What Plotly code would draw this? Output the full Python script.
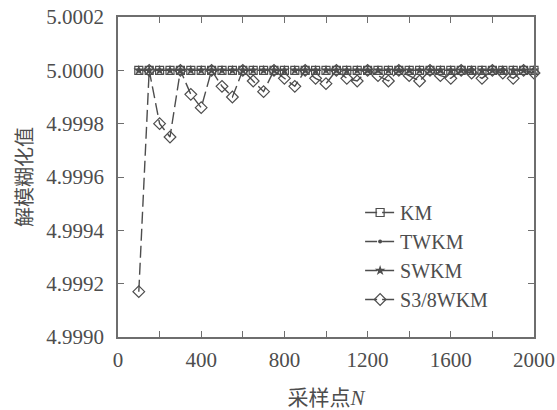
import plotly.graph_objects as go

# Sampling points N
n_points = [100, 150, 200, 250, 300, 350, 400, 450, 500, 550, 600, 650, 700,
            750, 800, 850, 900, 950, 1000, 1050, 1100, 1150, 1200, 1250, 1300,
            1350, 1400, 1450, 1500, 1550, 1600, 1650, 1700, 1750, 1800, 1850,
            1900, 1950, 2000]

# Defuzzified values for each method
km = [5.00000, 5.00000, 5.00000, 5.00000, 5.00000, 5.00000, 5.00000, 5.00000,
      5.00000, 5.00000, 5.00000, 5.00000, 5.00000, 5.00000, 5.00000, 5.00000,
      5.00000, 5.00000, 5.00000, 5.00000, 5.00000, 5.00000, 5.00000, 5.00000,
      5.00000, 5.00000, 5.00000, 5.00000, 5.00000, 5.00000, 5.00000, 5.00000,
      5.00000, 5.00000, 5.00000, 5.00000, 5.00000, 5.00000, 5.00000]
twkm = [5.00000, 5.00000, 5.00000, 5.00000, 5.00000, 5.00000, 5.00000, 5.00000,
        5.00000, 5.00000, 5.00000, 5.00000, 5.00000, 5.00000, 5.00000, 5.00000,
        5.00000, 5.00000, 5.00000, 5.00000, 5.00000, 5.00000, 5.00000, 5.00000,
        5.00000, 5.00000, 5.00000, 5.00000, 5.00000, 5.00000, 5.00000, 5.00000,
        5.00000, 5.00000, 5.00000, 5.00000, 5.00000, 5.00000, 5.00000]
swkm = [5.00000, 5.00000, 5.00000, 5.00000, 5.00000, 5.00000, 5.00000, 5.00000,
        5.00000, 5.00000, 5.00000, 5.00000, 5.00000, 5.00000, 5.00000, 5.00000,
        5.00000, 5.00000, 5.00000, 5.00000, 5.00000, 5.00000, 5.00000, 5.00000,
        5.00000, 5.00000, 5.00000, 5.00000, 5.00000, 5.00000, 5.00000, 5.00000,
        5.00000, 5.00000, 5.00000, 5.00000, 5.00000, 5.00000, 5.00000]
s38wkm = [4.99917, 5.00000, 4.99980, 4.99975, 5.00000, 4.99991, 4.99986,
          5.00000, 4.99994, 4.99990, 5.00000, 4.99996, 4.99992, 5.00000,
          4.99997, 4.99994, 5.00000, 4.99997, 4.99995, 5.00000, 4.99997,
          4.99996, 5.00000, 4.99998, 4.99996, 5.00000, 4.99998, 4.99996,
          5.00000, 4.99998, 4.99997, 5.00000, 4.99999, 4.99997, 5.00000,
          4.99999, 4.99997, 5.00000, 4.99999]

x_tickvals = [0, 400, 800, 1200, 1600, 2000]
y_tickvals = [4.9990, 4.9992, 4.9994, 4.9996, 4.9998, 5.0000, 5.0002]
y_ticktext = ["4.9990", "4.9992", "4.9994", "4.9996", "4.9998", "5.0000", "5.0002"]

INK = "#4d4d4d"
AXIS = "#6e6e6e"
SERIF = "Liberation Serif, Noto Sans CJK SC, serif"

series = [
    ("KM", km, dict(symbol="square-open", size=8, line=dict(width=1.2))),
    ("TWKM", twkm, dict(symbol="circle", size=4)),
    ("SWKM", swkm, dict(symbol="star", size=8)),
    ("S3/8WKM", s38wkm, dict(symbol="diamond-open", size=9, line=dict(width=1.2))),
]

fig = go.Figure()
for name, values, marker in series:
    fig.add_trace(go.Scatter(
        x=n_points, y=values, name=name, mode="lines+markers",
        line=dict(color=INK, width=1.4, dash="12px,5px"),
        marker=dict(color=INK, **marker),
        cliponaxis=False,
    ))

axis_common = dict(
    showline=True, linecolor=AXIS, linewidth=1.5, mirror="ticks",
    ticks="inside", ticklen=6, tickwidth=1.2, tickcolor=AXIS,
    showgrid=False, zeroline=False, automargin=False,
    tickfont=dict(family=SERIF, size=21, color=INK),
)

fig.update_xaxes(
    range=[0, 2000], tickvals=x_tickvals,
    minor=dict(dtick=200, ticks="inside", ticklen=6, tickcolor=AXIS, tickwidth=1.2),
    title=dict(text="采样点<i>N</i>", font=dict(family=SERIF, size=21, color=INK),
               standoff=26),
    ticklabelstandoff=3,
    **axis_common,
)
fig.update_yaxes(
    range=[4.9990, 5.0002], tickvals=y_tickvals, ticktext=y_ticktext,
    title=dict(text="解模糊化值", font=dict(family=SERIF, size=20, color=INK),
               standoff=8),
    ticklabelstandoff=8,
    **axis_common,
)

fig.update_layout(
    width=557, height=410,
    margin=dict(l=118, r=23, t=17, b=73),
    paper_bgcolor="white", plot_bgcolor="white",
    legend=dict(
        x=0.582, y=0.45, xanchor="left", yanchor="top",
        font=dict(family=SERIF, size=20, color=INK),
        bgcolor="rgba(0,0,0,0)",
        itemwidth=30,
    ),
)

fig.write_html("out.html")
